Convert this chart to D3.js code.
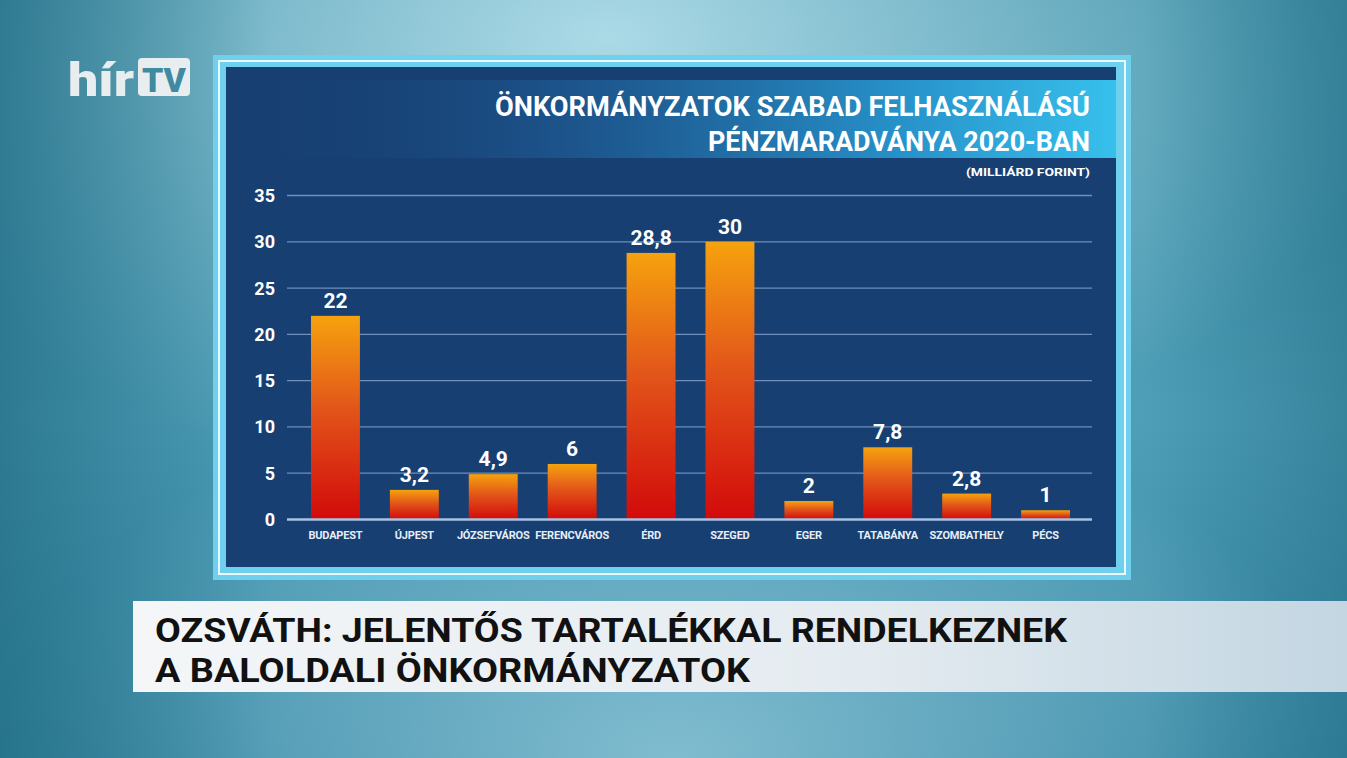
<!DOCTYPE html>
<html>
<head>
<meta charset="utf-8">
<script src="https://cdn.jsdelivr.net/npm/d3@7"></script>
<style>
  html, body { margin: 0; padding: 0; overflow: hidden; }
  svg { display: block; }
</style>
</head>
<body>
<svg id="chart" width="1347" height="758"></svg>
<script>
// data
var cities = ["BUDAPEST", "ÚJPEST", "JÓZSEFVÁROS", "FERENCVÁROS", "ÉRD", "SZEGED", "EGER", "TATABÁNYA", "SZOMBATHELY", "PÉCS"];
var values = [22, 3.2, 4.9, 6, 28.8, 30, 2, 7.8, 2.8, 1];
var yTicks = [0, 5, 10, 15, 20, 25, 30, 35];
var titleLines = ["ÖNKORMÁNYZATOK SZABAD FELHASZNÁLÁSÚ", "PÉNZMARADVÁNYA 2020-BAN"];
var unitLabel = "(MILLIÁRD FORINT)";
var captionLines = ["OZSVÁTH: JELENTŐS TARTALÉKKAL RENDELKEZNEK", "A BALOLDALI ÖNKORMÁNYZATOK"];

var W = 1347, H = 758;
var svg = d3.select("#chart");
var defs = svg.append("defs");

// background gradients
var bg = defs.append("linearGradient").attr("id", "bg")
    .attr("x1", 0).attr("y1", 0).attr("x2", 0).attr("y2", 1);
bg.append("stop").attr("offset", "0%").attr("stop-color", "#3d8fa6");
bg.append("stop").attr("offset", "55%").attr("stop-color", "#4f9fb8");
bg.append("stop").attr("offset", "100%").attr("stop-color", "#3a8aa6");

var glow = defs.append("radialGradient").attr("id", "glow")
    .attr("cx", 0.45).attr("cy", 0.05).attr("r", 0.6);
glow.append("stop").attr("offset", "0%").attr("stop-color", "#b8e2ee").attr("stop-opacity", 0.9);
glow.append("stop").attr("offset", "100%").attr("stop-color", "#b8e2ee").attr("stop-opacity", 0);

var glow2 = defs.append("radialGradient").attr("id", "glow2")
    .attr("cx", 0.5).attr("cy", 1.0).attr("r", 0.5);
glow2.append("stop").attr("offset", "0%").attr("stop-color", "#9fd2e2").attr("stop-opacity", 0.7);
glow2.append("stop").attr("offset", "100%").attr("stop-color", "#9fd2e2").attr("stop-opacity", 0);

var darkEdge = defs.append("linearGradient").attr("id", "darkEdge")
    .attr("x1", 0).attr("y1", 0).attr("x2", 1).attr("y2", 0);
darkEdge.append("stop").attr("offset", "0%").attr("stop-color", "#1f6a82").attr("stop-opacity", 0.7);
darkEdge.append("stop").attr("offset", "20%").attr("stop-color", "#1f6a82").attr("stop-opacity", 0);
darkEdge.append("stop").attr("offset", "85%").attr("stop-color", "#1f6a82").attr("stop-opacity", 0);
darkEdge.append("stop").attr("offset", "100%").attr("stop-color", "#1f6a82").attr("stop-opacity", 0.5);

svg.append("rect").attr("width", W).attr("height", H).attr("fill", "url(#bg)");
svg.append("rect").attr("width", W).attr("height", H).attr("fill", "url(#glow)");
svg.append("rect").attr("width", W).attr("height", H).attr("fill", "url(#glow2)");
svg.append("rect").attr("width", W).attr("height", H).attr("fill", "url(#darkEdge)");

// logo
var logo = svg.append("g").attr("transform", "translate(68,96)");
logo.append("text")
    .attr("x", 0).attr("y", 0)
    .attr("font-family", "Roboto, 'DejaVu Sans', sans-serif")
    .attr("font-weight", 900)
    .attr("font-size", 46)
    .attr("fill", "#e8eef0")
    .attr("textLength", 66).attr("lengthAdjust", "spacingAndGlyphs")
    .text("hír");
logo.append("rect").attr("x", 70).attr("y", -38).attr("width", 52).attr("height", 38)
    .attr("rx", 4).attr("fill", "#e8eef0");
logo.append("text")
    .attr("x", 96).attr("y", -4)
    .attr("text-anchor", "middle")
    .attr("font-family", "Roboto, 'DejaVu Sans', sans-serif")
    .attr("font-weight", 900)
    .attr("font-size", 34)
    .attr("fill", "#3f8aa0")
    .attr("textLength", 44).attr("lengthAdjust", "spacingAndGlyphs")
    .text("TV");

// chart frame
svg.append("rect").attr("x", 213).attr("y", 55).attr("width", 918).attr("height", 525)
    .attr("fill", "#6fd0ee");
svg.append("rect").attr("x", 219).attr("y", 61).attr("width", 906).attr("height", 513)
    .attr("fill", "none").attr("stroke", "#eaf8fc").attr("stroke-width", 2);
svg.append("rect").attr("x", 226).attr("y", 67).attr("width", 890).attr("height", 500)
    .attr("fill", "#173f72");

// title band
var band = defs.append("linearGradient").attr("id", "band")
    .attr("x1", 0).attr("y1", 0).attr("x2", 1).attr("y2", 0);
band.append("stop").attr("offset", "0%").attr("stop-color", "#173f72").attr("stop-opacity", 0);
band.append("stop").attr("offset", "35%").attr("stop-color", "#1e5c95").attr("stop-opacity", 0.6);
band.append("stop").attr("offset", "75%").attr("stop-color", "#2790c8");
band.append("stop").attr("offset", "100%").attr("stop-color", "#37c0ec");
svg.append("rect").attr("x", 226).attr("y", 80).attr("width", 890).attr("height", 78)
    .attr("fill", "url(#band)");

var bodyFont = "Roboto, 'DejaVu Sans', sans-serif";

svg.append("g").selectAll("text")
    .data(titleLines)
    .join("text")
    .attr("x", 1090)
    .attr("y", function (d, i) { return 116 + i * 35; })
    .attr("text-anchor", "end")
    .attr("font-family", bodyFont)
    .attr("font-weight", 700)
    .attr("font-size", 28)
    .attr("fill", "#ffffff")
    .attr("textLength", function (d, i) { return i === 0 ? 595 : 382; })
    .attr("lengthAdjust", "spacingAndGlyphs")
    .text(function (d) { return d; });

svg.append("text")
    .attr("x", 1090).attr("y", 176)
    .attr("text-anchor", "end")
    .attr("font-family", bodyFont)
    .attr("font-weight", 700)
    .attr("font-size", 11)
    .attr("fill", "#ffffff")
    .attr("textLength", 124).attr("lengthAdjust", "spacingAndGlyphs")
    .text(unitLabel);

// scales
var x = d3.scaleBand().domain(cities).range([296, 1085]).paddingInner(0.38).paddingOuter(0.19);
var y = d3.scaleLinear().domain([0, 35]).range([519.5, 195.5]);

// grid
svg.append("g").selectAll("line")
    .data(yTicks.filter(function (d) { return d > 0; }))
    .join("line")
    .attr("x1", 287).attr("x2", 1092)
    .attr("y1", function (d) { return y(d); })
    .attr("y2", function (d) { return y(d); })
    .attr("stroke", "#6f8fbc").attr("stroke-width", 1.3);

// y tick labels
svg.append("g").selectAll("text")
    .data(yTicks)
    .join("text")
    .attr("x", 275)
    .attr("y", function (d) { return y(d) + 6.5; })
    .attr("text-anchor", "end")
    .attr("font-family", bodyFont)
    .attr("font-weight", 700)
    .attr("font-size", 18)
    .attr("fill", "#ffffff")
    .text(function (d) { return d; });

// bars
var barGrad = defs.append("linearGradient").attr("id", "barGrad")
    .attr("x1", 0).attr("y1", 0).attr("x2", 0).attr("y2", 1);
barGrad.append("stop").attr("offset", "0%").attr("stop-color", "#f6a20e");
barGrad.append("stop").attr("offset", "45%").attr("stop-color", "#e2561a");
barGrad.append("stop").attr("offset", "100%").attr("stop-color", "#d20a0a");

var data = cities.map(function (c, i) { return { city: c, value: values[i] }; });

svg.append("g").selectAll("rect")
    .data(data)
    .join("rect")
    .attr("x", function (d) { return x(d.city); })
    .attr("width", x.bandwidth())
    .attr("y", function (d) { return y(d.value); })
    .attr("height", function (d) { return y(0) - y(d.value); })
    .attr("fill", "url(#barGrad)");

// axis baseline
svg.append("line")
    .attr("x1", 287).attr("x2", 1092)
    .attr("y1", y(0)).attr("y2", y(0))
    .attr("stroke", "#a9c3e6").attr("stroke-width", 2.5);

// value labels
svg.append("g").selectAll("text")
    .data(data)
    .join("text")
    .attr("x", function (d) { return x(d.city) + x.bandwidth() / 2; })
    .attr("y", function (d) { return y(d.value) - 8; })
    .attr("text-anchor", "middle")
    .attr("font-family", bodyFont)
    .attr("font-weight", 700)
    .attr("font-size", 21)
    .attr("fill", "#ffffff")
    .text(function (d) { return String(d.value).replace(".", ","); });

// category labels
svg.append("g").selectAll("text")
    .data(cities)
    .join("text")
    .attr("x", function (d) { return x(d) + x.bandwidth() / 2; })
    .attr("y", 539)
    .attr("text-anchor", "middle")
    .attr("font-family", bodyFont)
    .attr("font-weight", 700)
    .attr("font-size", 11)
    .attr("letter-spacing", -0.2)
    .attr("fill", "#e6eef8")
    .text(function (d) { return d; });

// caption bar
var cap = defs.append("linearGradient").attr("id", "cap")
    .attr("x1", 0).attr("y1", 0).attr("x2", 1).attr("y2", 0);
cap.append("stop").attr("offset", "0%").attr("stop-color", "#f4f6f8");
cap.append("stop").attr("offset", "60%").attr("stop-color", "#e4ebf0");
cap.append("stop").attr("offset", "100%").attr("stop-color", "#c3d6e2");
svg.append("rect").attr("x", 133).attr("y", 601).attr("width", W - 133).attr("height", 91)
    .attr("fill", "url(#cap)");

svg.append("g").selectAll("text")
    .data(captionLines)
    .join("text")
    .attr("x", 155)
    .attr("y", function (d, i) { return 642 + i * 40; })
    .attr("font-family", bodyFont)
    .attr("font-weight", 700)
    .attr("font-size", 34)
    .attr("fill", "#111111")
    .attr("textLength", function (d, i) { return i === 0 ? 912 : 595; })
    .attr("lengthAdjust", "spacingAndGlyphs")
    .text(function (d) { return d; });
</script>
</body>
</html>
